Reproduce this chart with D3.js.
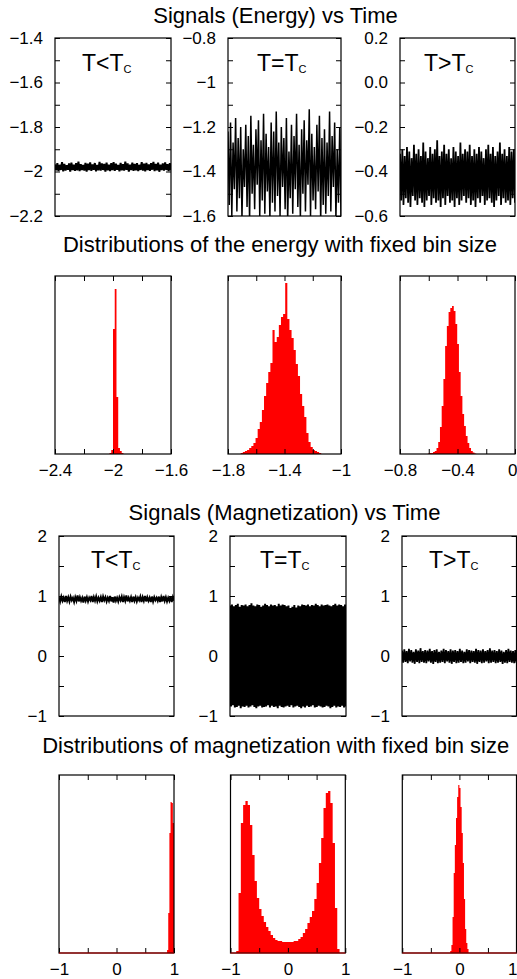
<!DOCTYPE html>
<meta charset="utf-8">
<style>
body { margin: 0; background: #fff; }
svg { font-family: "Liberation Sans", Arial, sans-serif; }
</style>
<body>
<script src="https://d3js.org/d3.v7.min.js"></script>
<script>

// ---- signals: alternating peaks / troughs ----
var eSigBelow = [-1.968,-1.995,-1.962,-1.998,-1.970,-1.993,-1.958,-1.999,-1.966,-1.996,-1.972,-1.992,-1.964,-2.001,-1.960,-1.994,-1.969,-1.997,-1.963,-1.995,
  -1.956,-1.998,-1.967,-1.993,-1.971,-1.996,-1.961,-2.000,-1.965,-1.994,-1.959,-1.997,-1.968,-1.992,-1.962,-1.999,-1.970,-1.995,-1.957,-1.996,
  -1.964,-1.993,-1.966,-2.001,-1.960,-1.995,-1.969,-1.998,-1.963,-1.994,-1.958,-1.997,-1.965,-1.992,-1.971,-1.999,-1.961,-1.995,-1.967,-1.996,
  -1.956,-1.993,-1.964,-2.000,-1.969,-1.994,-1.960,-1.997,-1.966,-1.995,-1.962,-1.998,-1.970,-1.993,-1.958,-1.996,-1.965,-1.999,-1.961,-1.994,
  -1.968,-1.997,-1.963,-1.992,-1.957,-1.998,-1.966,-1.995,-1.960,-2.001,-1.969,-1.994,-1.964,-1.996,-1.959,-1.993,-1.967,-1.998,-1.962,-1.995];
var eSigCrit = [-1.22,-1.55,-1.18,-1.60,-1.27,-1.48,-1.16,-1.58,-1.25,-1.52,-1.20,-1.61,-1.30,-1.47,-1.19,-1.56,-1.24,-1.62,-1.15,-1.50,
  -1.28,-1.57,-1.21,-1.46,-1.17,-1.60,-1.26,-1.53,-1.14,-1.59,-1.23,-1.49,-1.29,-1.61,-1.18,-1.54,-1.22,-1.58,-1.13,-1.51,
  -1.27,-1.60,-1.20,-1.47,-1.25,-1.57,-1.16,-1.62,-1.31,-1.52,-1.19,-1.59,-1.24,-1.48,-1.14,-1.56,-1.28,-1.61,-1.21,-1.50,
  -1.17,-1.58,-1.26,-1.46,-1.12,-1.60,-1.23,-1.53,-1.29,-1.57,-1.19,-1.49,-1.15,-1.62,-1.25,-1.55,-1.21,-1.59,-1.27,-1.51,
  -1.13,-1.58,-1.24,-1.47,-1.18,-1.61,-1.30,-1.54,-1.20,-1.60];
var eSigAbove = [-0.32,-0.53,-0.30,-0.55,-0.33,-0.52,-0.29,-0.54,-0.31,-0.56,-0.34,-0.51,-0.28,-0.53,-0.32,-0.55,-0.30,-0.52,-0.33,-0.54,
  -0.27,-0.56,-0.31,-0.53,-0.34,-0.51,-0.29,-0.55,-0.32,-0.52,-0.30,-0.54,-0.26,-0.53,-0.33,-0.56,-0.31,-0.52,-0.28,-0.55,
  -0.32,-0.51,-0.30,-0.54,-0.34,-0.53,-0.29,-0.56,-0.31,-0.52,-0.33,-0.55,-0.27,-0.53,-0.32,-0.51,-0.30,-0.54,-0.31,-0.52,
  -0.28,-0.55,-0.33,-0.53,-0.30,-0.56,-0.32,-0.52,-0.29,-0.54,-0.31,-0.51,-0.34,-0.55,-0.30,-0.53,-0.28,-0.52,-0.32,-0.54,
  -0.29,-0.56,-0.33,-0.53,-0.31,-0.51,-0.27,-0.55,-0.32,-0.52,-0.30,-0.54,-0.33,-0.53,-0.29,-0.55,-0.31,-0.52,-0.30,-0.54];
var mSigBelow = [0.98,0.91,0.99,0.92,0.97,0.90,1.00,0.92,0.98,0.91,0.99,0.93,0.97,0.90,0.98,0.92,1.01,0.91,0.98,0.92,
  0.97,0.89,0.99,0.92,0.98,0.91,0.97,0.93,1.00,0.90,0.98,0.92,0.99,0.91,0.97,0.92,0.98,0.90,0.99,0.93,
  0.98,0.91,0.97,0.92,1.00,0.91,0.98,0.89,0.99,0.92,0.97,0.91,0.98,0.93,0.99,0.90,0.98,0.92,1.01,0.91,
  0.97,0.92,0.98,0.90,0.99,0.92,0.98,0.91,0.97,0.93,0.99,0.90,0.98,0.92,1.00,0.91,0.98,0.92,0.97,0.90,
  0.99,0.91,0.98,0.93,0.97,0.92,0.99,0.90,0.98,0.91,1.00,0.92,0.98,0.91,0.97,0.92,0.99,0.90,0.98,0.92];
var mSigCrit = [0.84,-0.84,0.86,-0.82,0.83,-0.86,0.85,-0.85,0.87,-0.83,0.82,-0.87,0.85,-0.84,0.84,-0.85,0.86,-0.83,0.83,-0.86,
  0.85,-0.84,0.88,-0.82,0.84,-0.85,0.83,-0.87,0.86,-0.84,0.85,-0.83,0.82,-0.86,0.84,-0.85,0.87,-0.84,0.85,-0.82,
  0.83,-0.86,0.86,-0.83,0.84,-0.85,0.85,-0.84,0.83,-0.87,0.87,-0.83,0.84,-0.85,0.86,-0.86,0.85,-0.84,0.83,-0.83,
  0.84,-0.85,0.80,-0.82,0.82,-0.86,0.85,-0.84,0.81,-0.83,0.84,-0.85,0.83,-0.87,0.86,-0.84,0.85,-0.86,0.84,-0.83,
  0.86,-0.85,0.83,-0.84,0.85,-0.82,0.84,-0.86,0.87,-0.85,0.85,-0.83,0.83,-0.84,0.86,-0.86,0.84,-0.85,0.85,-0.83,
  0.86,-0.84,0.84,-0.87,0.83,-0.85,0.85,-0.83,0.87,-0.86,0.84,-0.84,0.86,-0.85,0.85,-0.83,0.83,-0.86,0.86,-0.84];
var mSigAbove = [0.09,-0.11,0.11,-0.10,0.08,-0.12,0.12,-0.09,0.10,-0.11,0.07,-0.13,0.11,-0.10,0.09,-0.12,0.13,-0.10,0.08,-0.11,
  0.10,-0.12,0.09,-0.09,0.12,-0.11,0.08,-0.13,0.10,-0.10,0.11,-0.12,0.07,-0.11,0.09,-0.10,0.12,-0.12,0.10,-0.09,
  0.08,-0.11,0.11,-0.13,0.09,-0.10,0.10,-0.12,0.08,-0.11,0.12,-0.10,0.09,-0.12,0.07,-0.11,0.11,-0.09,0.10,-0.12,
  0.09,-0.10,0.08,-0.11,0.12,-0.13,0.10,-0.10,0.09,-0.12,0.11,-0.11,0.08,-0.09,0.10,-0.12,0.13,-0.11,0.09,-0.10,
  0.10,-0.12,0.08,-0.11,0.11,-0.10,0.09,-0.13,0.07,-0.11,0.10,-0.12,0.12,-0.10,0.09,-0.11,0.08,-0.12,0.10,-0.11];

// ---- histograms: first bin edge, bin width, counts ----
var eHistBelowStart = -2.024, eHistBelowWidth = 0.012;
var eHistBelow = [1, 4, 125, 165, 57, 6, 3, 1];
var eHistCritStart = -1.71, eHistCritWidth = 0.015;
var eHistCrit = [1,2,3,4,6,8,11,16,25,32,44,58,71,82,91,124,112,117,129,137,
  140,171,135,124,116,104,90,78,60,48,37,21,12,7,4,3,2,1];
var eHistAboveStart = -0.606, eHistAboveWidth = 0.012;
var eHistAbove = [0.5,1,1,2,3,6,12,27,48,75,108,128,142,146,148,143,130,110,82,58,40,28,18,11,6,3,1.5,0.5];
var mHistBelowStart = 0.88, mHistBelowWidth = 0.02;
var mHistBelow = [3, 40, 120, 151, 150, 130];
var mHistCritStart = -0.90, mHistCritWidth = 0.04;
var mHistCrit = [2,60,130,148,152,148,128,98,72,55,44,37,31,26,22,18,15,13,12,12,
  11,11,11,11,11,12,12,14,16,20,24,30,36,42,54,70,90,115,145,160,162,150,110,45,4];
var mHistAboveStart = -0.16, mHistAboveWidth = 0.02;
var mHistAbove = [2,8,36,80,108,135,156,168,165,146,120,90,54,24,10,4];
var histMax = 178;

// ---- tick labels ----
var eSigTicks = [[-2.2,-2,-1.8,-1.6,-1.4], [-1.6,-1.4,-1.2,-1,-0.8], [-0.6,-0.4,-0.2,0,0.2]];
var eHistTicks = [[-2.4,-2,-1.6], [-1.8,-1.4,-1], [-0.8,-0.4,0]];
var mSigTicks = [-1, 0, 1, 2];
var mHistTicks = [-1, 0, 1];

var titles = ["Signals (Energy) vs Time",
  "Distributions of the energy with fixed bin size",
  "Signals (Magnetization) vs Time",
  "Distributions of magnetization with fixed bin size"];
var phaseLabels = ["T<T", "T=T", "T>T"];

// layout of the four rows of panels
var W = 517, H = 979;
var rows = [
  {top: 38,  h: 178, left: [55, 228, 400],   w: [116, 113, 115]},
  {top: 276, h: 178, left: [55, 228, 400],   w: [116, 113, 115]},
  {top: 536, h: 180, left: [59, 230, 402],   w: [115, 116, 114.5]},
  {top: 775, h: 178, left: [59, 230.5, 402.3], w: [115, 114.8, 114.2]}
];
var titlePos = [[275.5, 23], [280, 252], [284.5, 520], [275.7, 753]];

var svg = d3.select("body").append("svg")
    .attr("width", W)
    .attr("height", H);

var clipId = 0;

// major ticks plus one minor tick between each pair
function withMinor(major) {
  var t = [];
  for (var i = 0; i < major.length - 1; i++) {
    t.push(major[i]);
    t.push((major[i] + major[i + 1]) / 2);
  }
  t.push(major[major.length - 1]);
  return t;
}

function styleAxis(a) {
  a.select(".domain").remove();
  a.attr("font-size", 17).attr("font-family", "Liberation Sans, Arial, sans-serif");
  a.selectAll("line").attr("stroke-width", 1);
}

function frame(g, w, h) {
  g.append("rect")
    .attr("width", w).attr("height", h)
    .attr("fill", "none").attr("stroke", "#000").attr("stroke-width", 1.2);
}

function addClip(g, w, h) {
  var id = "clip" + (clipId++);
  g.append("clipPath").attr("id", id)
    .append("rect").attr("width", w).attr("height", h);
  return "url(#" + id + ")";
}

function signalPanel(row, i, values, yTicks, fmt, labelDx, strokeW) {
  var r = rows[row], w = r.w[i], h = r.h;
  var g = svg.append("g").attr("transform", "translate(" + r.left[i] + "," + r.top + ")");
  var x = d3.scaleLinear().domain([0, values.length - 1]).range([0, w]);
  var y = d3.scaleLinear().domain([yTicks[0], yTicks[yTicks.length - 1]]).range([h, 0]);

  g.append("path")
    .datum(values)
    .attr("clip-path", addClip(g, w, h))
    .attr("fill", "none")
    .attr("stroke", "#000")
    .attr("stroke-width", strokeW)
    .attr("stroke-linejoin", "miter")
    .attr("d", d3.line().x(function(d, j) { return x(j); }).y(function(d) { return y(d); }));

  var all = withMinor(yTicks);
  g.append("g")
    .call(d3.axisLeft(y).tickValues(all).tickSize(-5).tickPadding(12)
      .tickFormat(function(d) { return yTicks.indexOf(d) >= 0 ? fmt(d) : ""; }))
    .call(styleAxis);
  g.append("g")
    .attr("transform", "translate(" + w + ",0)")
    .call(d3.axisRight(y).tickValues(all).tickSize(-5).tickFormat(""))
    .call(styleAxis);

  frame(g, w, h);

  var t = g.append("text")
    .attr("x", labelDx).attr("y", row == 0 ? 33 : 32)
    .attr("font-size", 23);
  t.append("tspan").text(phaseLabels[i]);
  t.append("tspan").attr("font-size", 11).attr("dy", 2).text("C");
}

function histPanel(row, i, start, binW, counts, xTicks, baseline) {
  var r = rows[row], w = r.w[i], h = r.h;
  var g = svg.append("g").attr("transform", "translate(" + r.left[i] + "," + r.top + ")");
  var x = d3.scaleLinear().domain([xTicks[0], xTicks[xTicks.length - 1]]).range([0, w]);
  var y = d3.scaleLinear().domain([0, histMax]).range([h, 0]);

  // step outline of the bins, closing at zero after the last bin
  var steps = counts.concat([0]);
  g.append("path")
    .datum(steps)
    .attr("clip-path", addClip(g, w, h))
    .attr("fill", "#ff0000")
    .attr("d", d3.area()
      .curve(d3.curveStepAfter)
      .x(function(d, j) { return x(start + j * binW); })
      .y0(y(0))
      .y1(function(d) { return y(d); }));

  var all = withMinor(xTicks);
  var bottom = g.append("g")
    .attr("transform", "translate(0," + h + ")")
    .call(d3.axisBottom(x).tickValues(all).tickSize(-5).tickPadding(10)
      .tickFormat(function(d) { return xTicks.indexOf(d) >= 0 ? d3.format("")(d) : ""; }))
    .call(styleAxis);
  // keep a label that would run past the right edge of the page inside it
  bottom.selectAll(".tick text").each(function(d) {
    var box = this.getBBox();
    if (r.left[i] + x(d) + box.width / 2 > W) d3.select(this).attr("text-anchor", "end").attr("x", W - r.left[i] - x(d));
  });
  g.append("g")
    .call(d3.axisTop(x).tickValues(all).tickSize(-5).tickFormat(""))
    .call(styleAxis);

  frame(g, w, h);

  // empty bins drawn along the bottom edge
  if (baseline) {
    g.append("line")
      .attr("x1", x(xTicks[0])).attr("x2", x(xTicks[xTicks.length - 1]))
      .attr("y1", y(0)).attr("y2", y(0))
      .attr("stroke", "#c00000").attr("stroke-width", 1);
  }
}

// titles
titles.forEach(function(s, k) {
  svg.append("text")
    .attr("x", titlePos[k][0]).attr("y", titlePos[k][1])
    .attr("text-anchor", "middle")
    .attr("font-size", 22)
    .text(s);
});

var plain = d3.format(""), oneDec = d3.format(".1f");

signalPanel(0, 0, eSigBelow, eSigTicks[0], plain, 27, 2);
signalPanel(0, 1, eSigCrit, eSigTicks[1], plain, 29, 1.5);
signalPanel(0, 2, eSigAbove, eSigTicks[2], oneDec, 24, 1.8);

histPanel(1, 0, eHistBelowStart, eHistBelowWidth, eHistBelow, eHistTicks[0], false);
histPanel(1, 1, eHistCritStart, eHistCritWidth, eHistCrit, eHistTicks[1], false);
histPanel(1, 2, eHistAboveStart, eHistAboveWidth, eHistAbove, eHistTicks[2], false);

signalPanel(2, 0, mSigBelow, mSigTicks, plain, 32, 2);
signalPanel(2, 1, mSigCrit, mSigTicks, plain, 30, 2);
signalPanel(2, 2, mSigAbove, mSigTicks, plain, 27, 1.8);

histPanel(3, 0, mHistBelowStart, mHistBelowWidth, mHistBelow, mHistTicks, true);
histPanel(3, 1, mHistCritStart, mHistCritWidth, mHistCrit, mHistTicks, true);
histPanel(3, 2, mHistAboveStart, mHistAboveWidth, mHistAbove, mHistTicks, true);

</script>
</body>
